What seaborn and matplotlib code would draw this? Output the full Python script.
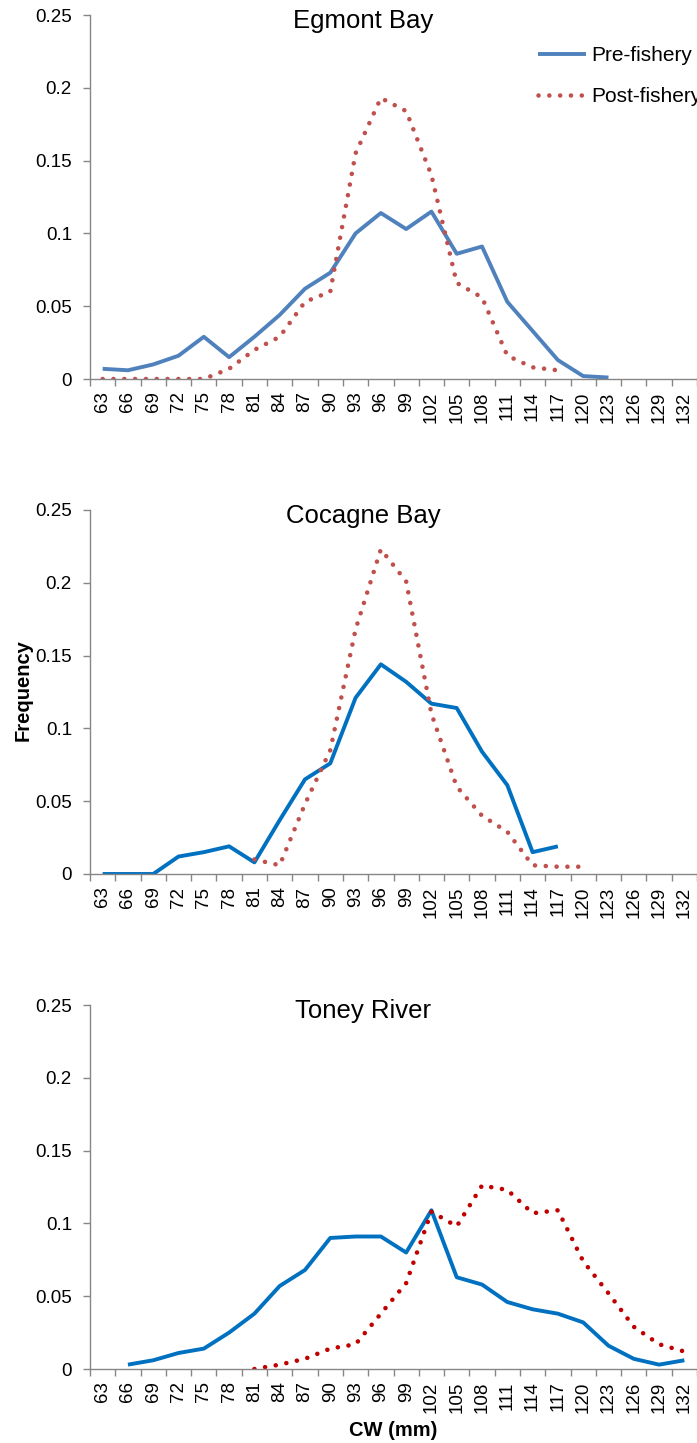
import numpy as np
import pandas as pd
import matplotlib
matplotlib.use("Agg")
import matplotlib.pyplot as plt
import seaborn as sns

# carapace width classes (mm)
cw = list(range(63, 133, 3))
nan = np.nan

egmont_pre = [0.007, 0.006, 0.010, 0.016, 0.029, 0.015, 0.029, 0.044, 0.062, 0.073,
              0.100, 0.114, 0.103, 0.115, 0.086, 0.091, 0.053, 0.033, 0.013, 0.002,
              0.001, nan, nan, nan]
egmont_post = [0.0, 0.0, 0.0, 0.0, 0.0, 0.007, 0.020, 0.029, 0.053, 0.060,
               0.155, 0.193, 0.184, 0.140, 0.066, 0.056, 0.016, 0.008, 0.006, nan,
               nan, nan, nan, nan]
cocagne_pre = [0.0, 0.0, 0.0, 0.012, 0.015, 0.019, 0.008, 0.037, 0.065, 0.076,
               0.121, 0.144, 0.132, 0.117, 0.114, 0.084, 0.061, 0.015, 0.019, nan,
               nan, nan, nan, nan]
cocagne_post = [nan, nan, nan, nan, nan, nan, 0.010, 0.006, 0.048, 0.085,
                0.168, 0.223, 0.201, 0.110, 0.060, 0.040, 0.029, 0.006, 0.005, 0.005,
                nan, nan, nan, nan]
toney_pre = [nan, 0.003, 0.006, 0.011, 0.014, 0.025, 0.038, 0.057, 0.068, 0.090,
             0.091, 0.091, 0.080, 0.109, 0.063, 0.058, 0.046, 0.041, 0.038, 0.032,
             0.016, 0.007, 0.003, 0.006]
toney_post = [nan, nan, nan, nan, nan, nan, 0.000, 0.003, 0.007, 0.014,
              0.017, 0.038, 0.059, 0.108, 0.098, 0.126, 0.123, 0.107, 0.109, 0.074,
              0.052, 0.029, 0.017, 0.012]

titles = ["Egmont Bay", "Cocagne Bay", "Toney River"]
pre_colors = ["#4F81BD", "#0070C0", "#0070C0"]
post_colors = ["#C0504D", "#C0504D", "#C00000"]
pre_series = [egmont_pre, cocagne_pre, toney_pre]
post_series = [egmont_post, cocagne_post, toney_post]

sns.set_style("white")
plt.rcParams["font.family"] = ["Liberation Sans", "DejaVu Sans"]
plt.rcParams["text.color"] = "black"
plt.rcParams["xtick.labelcolor"] = "black"
plt.rcParams["ytick.labelcolor"] = "black"

fig = plt.figure(figsize=(6.97, 14.43), dpi=100)
W, H = 697, 1443
# plot areas in pixels: (left, top, right, bottom)
boxes = [(90, 15, 697, 379), (90, 510, 697, 874), (90, 1005, 697, 1369)]

gray = "#868686"
for i, (l, t, r, b) in enumerate(boxes):
    ax = fig.add_axes([l / W, 1 - b / H, (r - l) / W, (b - t) / H])
    df = pd.DataFrame({"CW": cw, "pre": pre_series[i], "post": post_series[i]})
    sns.lineplot(data=df, x="CW", y="pre", ax=ax, color=pre_colors[i], lw=2.8,
                 errorbar=None, label="Pre-fishery", solid_capstyle="butt")
    sns.lineplot(data=df, x="CW", y="post", ax=ax, color=post_colors[i], lw=3.3,
                 errorbar=None, label="Post-fishery",
                 linestyle=(0, (0.01, 2.35)), dash_capstyle="round")

    ax.set_xlim(61.5, 133.5)
    ax.set_ylim(0, 0.25)
    ax.set_xticks(cw)
    ax.set_xticklabels([str(c) for c in cw], rotation=90)
    ax.set_xticks(np.arange(61.5, 134, 3), minor=True)
    ax.tick_params(axis="x", which="major", length=0, pad=9, labelsize=13.5)
    ax.tick_params(axis="x", which="minor", length=5, width=1, color=gray,
                   direction="out", bottom=True)
    yt = [0, 0.05, 0.1, 0.15, 0.2, 0.25]
    ax.set_yticks(yt)
    ax.set_yticklabels([f"{v:g}" for v in yt])
    ax.tick_params(axis="y", length=5, width=1, color=gray, direction="out",
                   left=True, pad=8, labelsize=13.5)
    for s in ["top", "right"]:
        ax.spines[s].set_visible(False)
    for s in ["left", "bottom"]:
        ax.spines[s].set_color(gray)
        ax.spines[s].set_linewidth(1)
    ax.set_xlabel("")
    ax.set_ylabel("")
    ax.text(0.45, 1 - 6 / (b - t), titles[i], transform=ax.transAxes,
            ha="center", va="center", fontsize=18.5)

    if i == 0:
        ax.legend(loc="upper left", bbox_to_anchor=(0.738, 0.915), frameon=False,
                  fontsize=15, borderpad=0, borderaxespad=0, handlelength=2.3,
                  handletextpad=0.25, labelspacing=1.05)
    else:
        ax.get_legend().remove()

fig.text(23 / W, 1 - 690 / H, "Frequency", rotation=90, ha="center", va="center",
         fontsize=14.5, fontweight="bold")
fig.text((90 + 303) / W, 1 - 1430 / H, "CW (mm)", ha="center", va="center",
         fontsize=14.5, fontweight="bold")

fig.savefig("out.png", dpi=100)
